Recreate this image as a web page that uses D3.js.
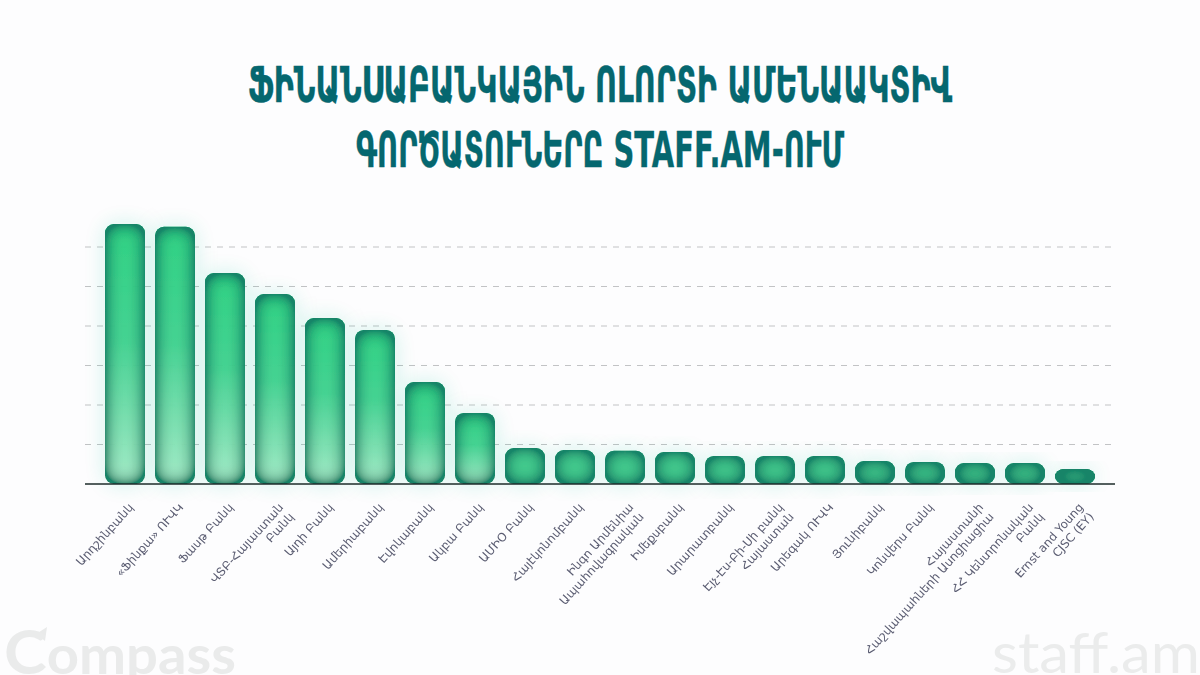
<!DOCTYPE html>
<html>
<head>
<meta charset="utf-8">
<script src="https://cdn.jsdelivr.net/npm/d3@7"></script>
<style>
  html, body { margin: 0; padding: 0; background: #fdfdfe; }
  svg { display: block; }
</style>
</head>
<body>
<div id="chart"></div>
<script>
const titleLines = ["ՖԻՆԱՆՍԱԲԱՆԿԱՅԻՆ ՈԼՈՐՏԻ ԱՄԵՆԱԱԿՏԻՎ", "ԳՈՐԾԱՏՈՒՆԵՐԸ STAFF.AM-ՈՒՄ"]
const titleWidths = [704, 488]

const categories = [
  "Արդշինբանկ", "«Ֆինքա» ՈՒՎԿ", "Ֆասթ Բանկ", "ՎՏԲ-Հայաստան\nԲանկ", "Այդի Բանկ",
  "Ամերիաբանկ", "Էվոկաբանկ", "Ակբա Բանկ", "ԱՄԻO Բանկ", "Հայէկոնոմբանկ",
  "Ինգո Արմենիա\nԱպահովագրական", "Իմեքսբանկ", "Արարատբանկ", "Էյչ-Էս-Բի-Սի բանկ\nՀայաստան", "Արեգակ ՈՒՎԿ",
  "Յունիբանկ", "Կոնվերս Բանկ", "Հայաստանի\nՀաշվապահների Ասոցիացիա", "ՀՀ Կենտրոնական\nԲանկ", "Ernst and Young\nCJSC (EY)"
]
const values = [658, 651, 534, 481, 420, 390, 258, 180, 91, 86, 84, 81, 71, 71, 71, 58, 56, 53, 53, 38]
const gridTicks = [0, 100, 200, 300, 400, 500, 600]

const width = 1200, height = 675
const svg = d3.select("#chart").append("svg").attr("width", width).attr("height", height)

const x = d3.scaleBand().domain(categories).range([100, 1100]).paddingInner(0.2).paddingOuter(0.1)
const y = d3.scaleLinear().domain([0, 600]).range([484, 247])

const defs = svg.append("defs")

// tall bars get brighter towards the base, the small ones stay flat
const grad = defs.append("linearGradient").attr("id", "barFill").attr("x1", 0).attr("x2", 0).attr("y1", 0).attr("y2", 1)
grad.append("stop").attr("offset", "0%").attr("stop-color", "#2ad07f")
grad.append("stop").attr("offset", "45%").attr("stop-color", "#3fd28f")
grad.append("stop").attr("offset", "100%").attr("stop-color", "#a2eac6")

// dark inner edge plus soft green glow outside
const filter = defs.append("filter").attr("id", "barFx")
  .attr("x", -0.6).attr("y", -0.5).attr("width", 2.2).attr("height", 2)
filter.append("feGaussianBlur").attr("in", "SourceAlpha").attr("stdDeviation", 9).attr("result", "blurIn")
filter.append("feComposite").attr("in", "SourceAlpha").attr("in2", "blurIn").attr("operator", "out").attr("result", "edge")
filter.append("feComponentTransfer").attr("in", "edge").attr("result", "edgeBoost")
  .append("feFuncA").attr("type", "linear").attr("slope", 1.9)
filter.append("feFlood").attr("flood-color", "#0c7f62").attr("flood-opacity", 1).attr("result", "dark")
filter.append("feComposite").attr("in", "dark").attr("in2", "edgeBoost").attr("operator", "in").attr("result", "inner")
filter.append("feGaussianBlur").attr("in", "SourceAlpha").attr("stdDeviation", 11).attr("result", "blurOut")
filter.append("feFlood").attr("flood-color", "#2ccb9a").attr("flood-opacity", 0.2).attr("result", "glow")
filter.append("feComposite").attr("in", "glow").attr("in2", "blurOut").attr("operator", "in").attr("result", "outer")
const fxMerge = filter.append("feMerge")
fxMerge.append("feMergeNode").attr("in", "outer")
fxMerge.append("feMergeNode").attr("in", "SourceGraphic")
fxMerge.append("feMergeNode").attr("in", "inner")

// logos at the bottom
const logos = svg.append("g")
logos.append("path").attr("d", "M33,636 L47,627 L45,641 L40,637 Z").attr("fill", "#e9eaea")
const compass = logos.append("text").attr("x", 4).attr("y", 674)
  .attr("font-family", "Lato, sans-serif").attr("font-weight", 700).attr("font-size", 54)
  .attr("textLength", 232).attr("lengthAdjust", "spacingAndGlyphs")
  .attr("fill", "#eaebeb")
compass.append("tspan").attr("font-size", 62).text("C")
compass.append("tspan").text("ompass")
logos.append("text").attr("x", 992).attr("y", 673)
  .attr("font-family", "Lato, sans-serif").attr("font-weight", 400).attr("font-size", 56)
  .attr("textLength", 208).attr("lengthAdjust", "spacingAndGlyphs")
  .attr("fill", "#ebecec").text("staff.am")

// title
svg.append("g").selectAll("text").data(titleLines).enter().append("text")
  .attr("x", width / 2)
  .attr("y", (d, i) => 102 + i * 65)
  .attr("text-anchor", "middle")
  .attr("font-family", "'DejaVu Sans', sans-serif")
  .attr("font-weight", 700)
  .attr("font-size", 50)
  .attr("textLength", (d, i) => titleWidths[i])
  .attr("lengthAdjust", "spacingAndGlyphs")
  .attr("fill", "#05676f")
  .attr("stroke", "#05676f")
  .attr("stroke-width", 0.4)
  .text(d => d)

// grid
svg.append("g").selectAll("line").data(gridTicks.slice(1)).enter().append("line")
  .attr("x1", 85).attr("x2", 1115)
  .attr("y1", d => y(d)).attr("y2", d => y(d))
  .attr("stroke", "#c2c3c5").attr("stroke-dasharray", "6 6")

// bars
svg.append("g").attr("opacity", 0.96).selectAll("rect").data(values).enter().append("rect")
  .attr("x", (d, i) => x(categories[i]))
  .attr("y", d => y(d))
  .attr("width", x.bandwidth())
  .attr("height", d => y(0) - y(d))
  .attr("rx", 9).attr("ry", 9)
  .attr("fill", d => d > 100 ? "url(#barFill)" : "#3ccb8a")
  .attr("filter", "url(#barFx)")

// axis
const axis = svg.append("g").attr("transform", `translate(0,${y(0)})`).call(d3.axisBottom(x).tickSize(0).tickFormat(""))
axis.select(".domain").remove()
svg.append("line").attr("x1", 85).attr("x2", 1115).attr("y1", y(0)).attr("y2", y(0))
  .attr("stroke", "#1c2b2a").attr("stroke-width", 1.3)

// tick labels, rotated, right aligned and split on line breaks
axis.selectAll(".tick").each(function (d) {
  const lines = d.split("\n")
  const label = d3.select(this).append("text")
    .attr("transform", "translate(6,21) rotate(-48)")
    .attr("text-anchor", "end")
    .attr("font-family", "'DejaVu Sans', sans-serif")
    .attr("font-size", 11.8)
    .attr("fill", "#5b5d72")
  lines.forEach((line, i) => {
    label.append("tspan").attr("x", 0).attr("y", i * 14).attr("dy", "0.35em").text(line)
  })
})
</script>
</body>
</html>
